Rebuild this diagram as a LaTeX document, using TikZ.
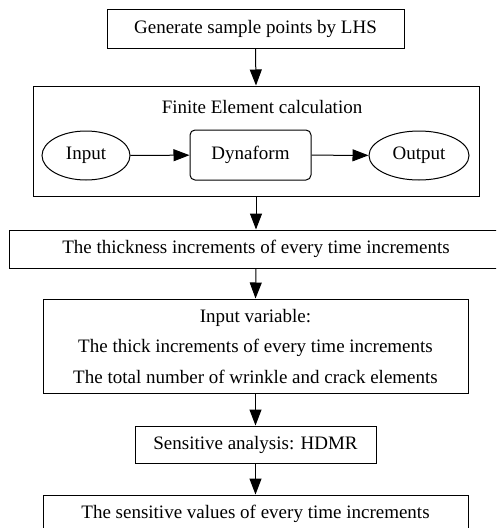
\documentclass[tikz,border=0pt]{standalone}
\usepackage{fontspec}
\setmainfont{Liberation Serif}
\usetikzlibrary{arrows.meta,shapes.geometric}
\begin{document}
\begin{tikzpicture}[x=1pt,y=1pt,
  txt/.style={font=\fontsize{19}{30.5}\selectfont},
  box/.style={draw, line width=1pt, inner sep=0pt, align=center, txt},
  oval/.style={draw, ellipse, line width=1pt, inner sep=0pt, txt},
  arr/.style={-{Triangle[length=16pt,width=12pt]}, line width=1pt}]
\useasboundingbox (0,0) rectangle (496,-528);
\clip (0,0) rectangle (496,-528);
\node[box, minimum width=297pt, minimum height=39pt] (gen) at (255.5,-28.5) {Generate sample points by LHS};
\node[draw, line width=1pt, minimum width=446pt, minimum height=110pt, inner sep=0pt] (fe) at (256,-141) {};
\node[txt] (fetitle) at (262,-107) {Finite Element calculation};
\node[oval, minimum width=88pt, minimum height=49pt] (in) at (86,-155.5) {Input};
\node[box, rounded corners=5pt, minimum width=121pt, minimum height=50pt] (dyna) at (250.5,-155) {Dynaform};
\node[oval, minimum width=100pt, minimum height=49pt] (out) at (419,-155.5) {Output};
\node[box, minimum width=494pt, minimum height=38pt] (thick) at (256,-249) {The thickness increments of every time increments};
\node[box, minimum width=425pt, minimum height=94pt] (var) at (255.5,-346) {Input variable:\\The thick increments of every time increments\\The total number of wrinkle and crack elements};
\node[box, minimum width=241pt, minimum height=37pt] (hdmr) at (255.5,-444.5) {Sensitive analysis: HDMR};
\node[box, minimum width=425pt, minimum height=38pt] (final) at (255.5,-514) {The sensitive values of every time increments};
\draw[arr] (gen.south) -- (fe.north);
\draw[arr] (in) -- (dyna);
\draw[arr] (dyna) -- (out);
\draw[arr] (fe.south) -- (thick.north);
\draw[arr] (thick.south) -- (var.north);
\draw[arr] (var.south) -- (hdmr.north);
\draw[arr] (hdmr.south) -- (final.north);
\end{tikzpicture}
\end{document}
